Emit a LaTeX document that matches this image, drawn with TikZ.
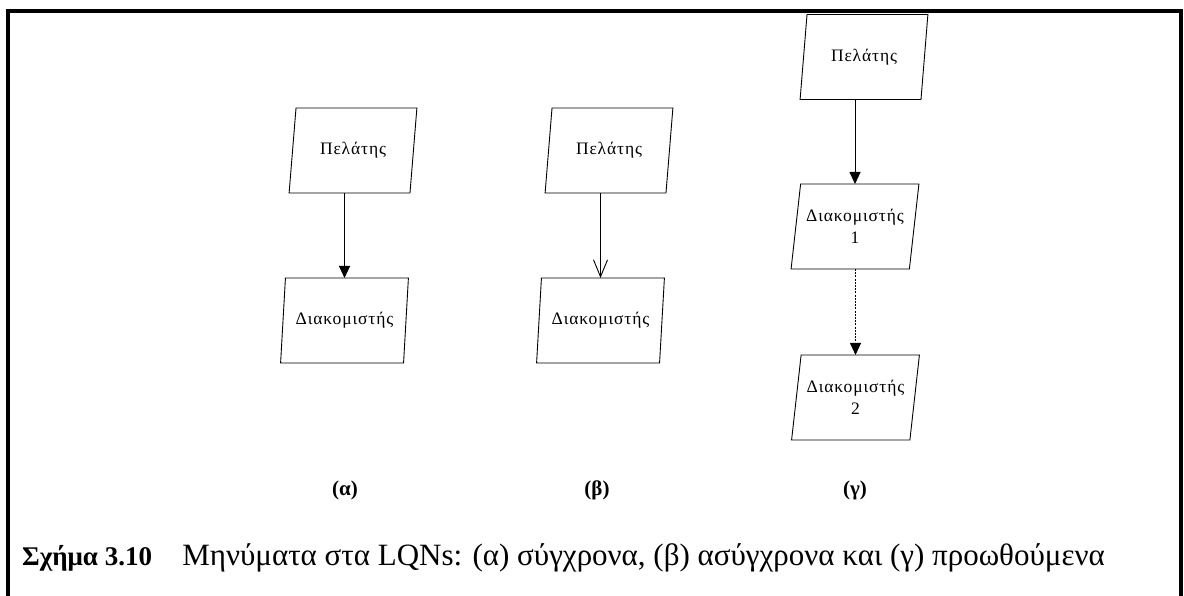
\documentclass[tikz,border=0pt]{standalone}
\usepackage{fontspec}
\setmainfont{Liberation Serif}
\newfontfamily\boxfont[LetterSpace=5]{Liberation Serif}
\usetikzlibrary{shapes.geometric,arrows.meta}
\begin{document}
\begin{tikzpicture}[x=1pt,y=-1pt,
  entity/.style={shape=trapezium, trapezium left angle=76, trapezium right angle=104,
    trapezium stretches=true, minimum width=128pt, minimum height=85pt,
    draw, line width=0.9pt, inner sep=0pt, outer sep=0pt, align=center,
    font=\boxfont\fontsize{17.5}{22}\selectfont},
  sync/.style={line width=0.9pt, -{Triangle[width=11pt,length=12pt]}},
  async/.style={line width=0.9pt, -{Straight Barb[width=14pt,length=17pt,line width=0.9pt]}},
  fwd/.style={line width=0.9pt, dash pattern=on 2pt off 1.2pt, -{Triangle[width=11pt,length=12pt]}},
  sublabel/.style={font=\fontsize{21}{25}\selectfont\bfseries},
  frame/.style={line width=4pt}]
  \useasboundingbox (0,0) rectangle (1184,596);

  % outer frame, open at the bottom
  \draw[frame] (8,596) -- (8,11) -- (1181,11) -- (1181,596);

  % (a) synchronous call
  \node[entity] (at) at (353,150.5) {Πελάτης};
  \node[entity] (ab) at (344.5,320.5) {Διακομιστής};
  \draw[sync] (ab.north |- at.south) -- (ab.north);

  % (b) asynchronous call
  \node[entity] (bt) at (609,150.5) {Πελάτης};
  \node[entity] (bb) at (600.5,320.5) {Διακομιστής};
  \draw[async] (bb.north |- bt.south) -- (bb.north);

  % (c) forwarded call
  \node[entity] (ct) at (864,57) {Πελάτης};
  \node[entity] (c1) at (855,226.5) {Διακομιστής\\1};
  \node[entity] (c2) at (855.5,397.5) {Διακομιστής\\2};
  \draw[sync] (c1.north |- ct.south) -- (c1.north);
  \draw[fwd] (c2.north |- c1.south) -- (c2.north);

  % sub-figure labels
  \node[sublabel] (la) at (345,490) {(α)};
  \node[sublabel] (lb) at (597,490) {(β)};
  \node[sublabel] (lc) at (855,490) {(γ)};

  % caption
  \node[anchor=base west, font=\fontsize{27}{32}\selectfont\bfseries, inner sep=0pt] (capnum) at (22,565) {Σχήμα 3.10};
  \node[anchor=base east, font=\fontsize{31}{36}\selectfont, inner sep=0pt] (captext) at (1105,565)
    {Μηνύματα στα LQNs: (α) σύγχρονα, (β) ασύγχρονα και (γ) προωθούμενα};
\end{tikzpicture}
\end{document}
